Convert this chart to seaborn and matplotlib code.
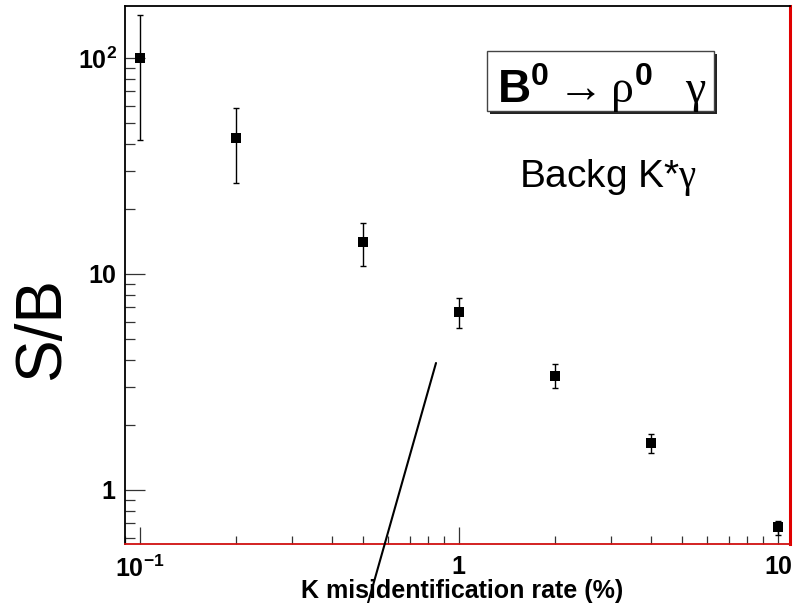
import numpy as np
import pandas as pd
import matplotlib
matplotlib.use("Agg")
import matplotlib.pyplot as plt
import seaborn as sns
from matplotlib.ticker import FixedLocator, FixedFormatter, LogLocator, NullFormatter
from matplotlib.patches import Rectangle
from matplotlib.lines import Line2D

# ---- data ----
misid_rate = [0.1, 0.2, 0.5, 1.0, 2.0, 4.0, 10.0]
s_over_b = [100.0, 42.6, 14.1, 6.67, 3.37, 1.65, 0.674]
s_over_b_hi = [158.0, 58.8, 17.2, 7.74, 3.83, 1.82, 0.718]
s_over_b_lo = [41.7, 26.4, 10.9, 5.62, 2.97, 1.48, 0.62]

x_ticks = [0.1, 1, 10]
x_tick_labels = [r"$\mathbf{10^{-1}}$", r"$\mathbf{1}$", r"$\mathbf{10}$"]
y_ticks = [1, 10, 100]
y_tick_labels = [r"$\mathbf{1}$", r"$\mathbf{10}$", r"$\mathbf{10^{2}}$"]

x_title = "K misidentification rate (%)"
y_title = "S/B"
box_title = r"$\mathbf{B}^{\mathbf{0}}\rightarrow\mathsf{\rho}^{\mathbf{0}}\;\;\;\mathsf{\gamma}$"
bkg_title = r"Backg K*$\mathsf{\gamma}$"

# ---- style ----
sns.set_style("white")
plt.rcParams['font.family'] = ['Liberation Sans', 'DejaVu Sans']
plt.rcParams['mathtext.fontset'] = 'custom'
plt.rcParams['mathtext.rm'] = 'Liberation Sans'
plt.rcParams['mathtext.bf'] = 'Liberation Sans:bold'
plt.rcParams['mathtext.it'] = 'Liberation Sans:italic'
plt.rcParams['mathtext.sf'] = 'Liberation Serif'
for k in ['text.color', 'axes.labelcolor', 'xtick.color', 'ytick.color']:
    plt.rcParams[k] = 'black'

W, H = 794, 603
fig = plt.figure(figsize=(W / 100, H / 100), dpi=100)
fig.patch.set_facecolor("white")
L, R, T, B = 125, 790, 6, 544
ax = fig.add_axes([L / W, 1 - B / H, (R - L) / W, (B - T) / H])
ax.set_facecolor("white")

df = pd.DataFrame({"rate": misid_rate, "sb": s_over_b,
                   "hi": s_over_b_hi, "lo": s_over_b_lo})

ax.set_xscale("log")
ax.set_yscale("log")
ax.errorbar(df["rate"], df["sb"],
            yerr=[df["sb"] - df["lo"], df["hi"] - df["sb"]],
            fmt="none", ecolor="black", elinewidth=1.0, capsize=2, capthick=1.0,
            zorder=2)
sns.scatterplot(data=df, x="rate", y="sb", marker="s", color="black",
                edgecolor="black", s=48, linewidth=0, ax=ax, zorder=3, legend=False)

ax.set_xlim(0.0897, 10.9)
ax.set_ylim(0.562, 174)

ax.xaxis.set_major_locator(FixedLocator(x_ticks))
ax.xaxis.set_major_formatter(FixedFormatter(x_tick_labels))
ax.yaxis.set_major_locator(FixedLocator(y_ticks))
ax.yaxis.set_major_formatter(FixedFormatter(y_tick_labels))
ax.xaxis.set_minor_locator(LogLocator(base=10, subs=np.arange(2, 10), numticks=20))
ax.yaxis.set_minor_locator(LogLocator(base=10, subs=np.arange(2, 10), numticks=20))
ax.xaxis.set_minor_formatter(NullFormatter())
ax.yaxis.set_minor_formatter(NullFormatter())

ax.tick_params(axis="x", which="major", direction="in", length=12, width=0.9,
               color="#333333", labelcolor="black", labelsize=18, pad=8,
               bottom=True, top=False)
ax.tick_params(axis="x", which="minor", direction="in", length=6, width=0.9,
               color="#333333", bottom=True, top=False)
ax.tick_params(axis="y", which="major", direction="in", length=14.5, width=0.9,
               color="#333333", labelcolor="black", labelsize=18, pad=6,
               left=True, right=False)
ax.tick_params(axis="y", which="minor", direction="in", length=7.2, width=0.9,
               color="#333333", left=True, right=False)
ax.set_xlabel("")
ax.set_ylabel("")

for side in ["left", "top"]:
    ax.spines[side].set_color("black")
    ax.spines[side].set_linewidth(1.3)
ax.spines["bottom"].set_color("#d01010")
ax.spines["bottom"].set_linewidth(1.3)
ax.spines["right"].set_color("#e00000")
ax.spines["right"].set_linewidth(2.2)

# axis titles
fig.text(462 / W, 1 - 598 / H, x_title, ha="center", va="baseline",
         fontsize=18, fontweight="bold", color="black")
fig.text(42 / W, 1 - 328 / H, y_title, ha="center", va="center",
         rotation=90, fontsize=46, color="black")

# title box with shadow
bx0, by0, bx1, by1 = 487, 51, 714, 111
fig.add_artist(Rectangle(((bx0 + 3) / W, 1 - (by1 + 3) / H), (bx1 - bx0) / W,
                         (by1 - by0) / H, transform=fig.transFigure,
                         facecolor="#222222", edgecolor="none", zorder=4))
fig.add_artist(Rectangle((bx0 / W, 1 - by1 / H), (bx1 - bx0) / W,
                         (by1 - by0) / H, transform=fig.transFigure,
                         facecolor="white", edgecolor="#444444", linewidth=1.0,
                         zorder=5))
fig.text(602 / W, 1 - 103 / H, box_title, ha="center", va="baseline",
         fontsize=33, zorder=6, color="black")
fig.text(608 / W, 1 - 187 / H, bkg_title, ha="center", va="baseline",
         fontsize=28, zorder=6, color="black")

# pointer line
fig.add_artist(Line2D([436 / W, 368 / W], [1 - 363 / H, 1 - 603 / H],
                      transform=fig.transFigure, color="black", linewidth=1.5,
                      zorder=6))

fig.savefig("out.png", dpi=100, facecolor="white")
